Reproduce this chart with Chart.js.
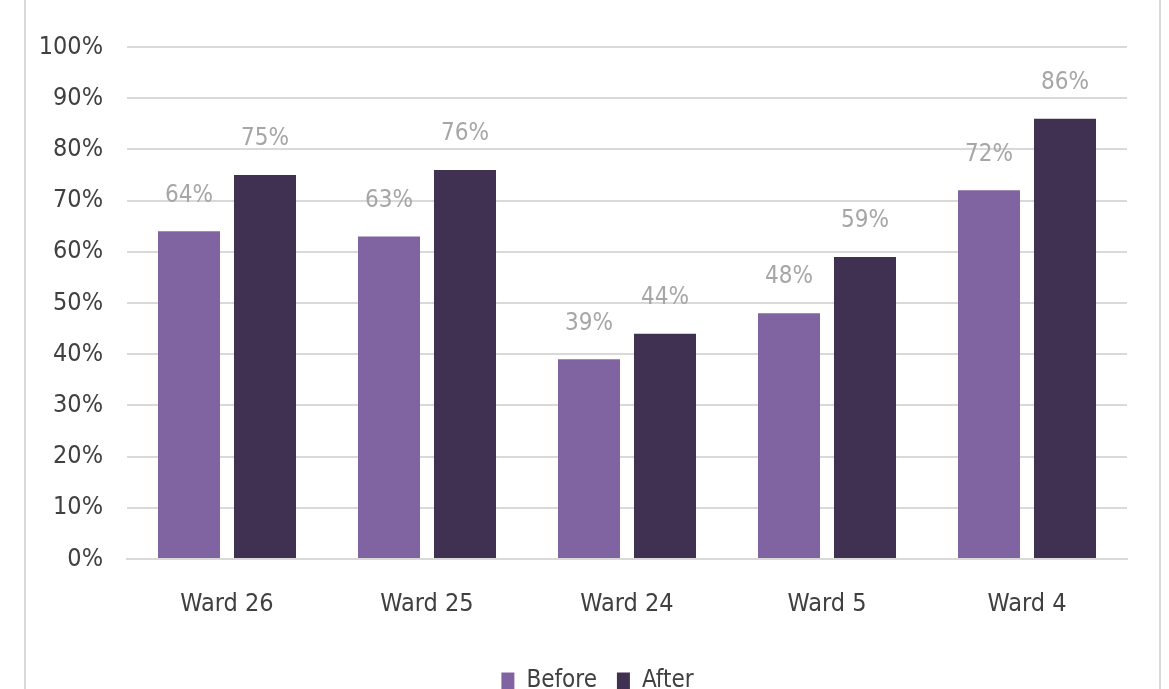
<!DOCTYPE html>
<html>
<head>
<meta charset="utf-8">
<script src="https://cdn.jsdelivr.net/npm/chart.js@4.4.1/dist/chart.umd.min.js"></script>
<style>
  html, body { margin: 0; padding: 0; background: #fff; overflow: hidden; }
  #wrap { position: relative; width: 1169px; height: 689px; overflow: hidden; }
  #frame { position: absolute; left: 24px; top: -5px; width: 1137px; height: 730px;
           border-left: 2px solid #D9D9D9; border-right: 2px solid #D9D9D9; box-sizing: border-box; }
  #cv { position: absolute; left: 0; top: 0; }
</style>
</head>
<body>
<div id="wrap">
  <div id="frame"></div>
  <canvas id="cv" width="1169" height="703" style="width:1169px;height:703px"></canvas>
</div>
<script>
const categories = ["Ward 26", "Ward 25", "Ward 24", "Ward 5", "Ward 4"];
const beforeValues = [64, 63, 39, 48, 72];
const afterValues = [75, 76, 44, 59, 86];
const seriesNames = ["Before", "After"];
const yTicks = [0, 10, 20, 30, 40, 50, 60, 70, 80, 90, 100];

const FONT = "'Liberation Sans Narrow', 'DejaVu Sans Condensed', 'Roboto Condensed', 'Liberation Sans', sans-serif";

const labelPlugin = {
  id: 'valueLabels',
  afterDatasetsDraw(chart) {
    const ctx = chart.ctx;
    ctx.save();
    ctx.font = "24px " + FONT;
    ctx.fillStyle = "#A6A6A6";
    ctx.textAlign = "center";
    ctx.textBaseline = "middle";
    chart.data.datasets.forEach((ds, i) => {
      const meta = chart.getDatasetMeta(i);
      meta.data.forEach((bar, j) => {
        ctx.fillText(ds.data[j] + "%", bar.x, bar.y - 36);
      });
    });
    ctx.restore();
  }
};

const legendShift = {
  id: 'legendShift',
  afterLayout(chart) {
    if (chart.legend) {
      chart.legend.left += 34;
      chart.legend.right += 34;
    }
  }
};

new Chart(document.getElementById('cv'), {
  type: 'bar',
  data: {
    labels: categories,
    datasets: [
      { label: seriesNames[0], data: beforeValues, backgroundColor: '#8064A2',
        categoryPercentage: 0.76, barPercentage: 0.816 },
      { label: seriesNames[1], data: afterValues, backgroundColor: '#403152',
        categoryPercentage: 0.76, barPercentage: 0.816 }
    ]
  },
  options: {
    responsive: false,
    animation: false,
    devicePixelRatio: 1,
    layout: { padding: { left: 0, right: 42, top: 47, bottom: 0 } },
    plugins: {
      legend: {
        position: 'bottom',
        labels: {
          font: { family: FONT, size: 24 },
          color: '#404040',
          boxWidth: 13,
          boxHeight: 17,
          padding: 20
        }
      },
      tooltip: { enabled: false },
      title: { display: false }
    },
    scales: {
      x: {
        grid: { display: false, drawTicks: false },
        border: { display: true, color: '#D9D9D9', width: 2 },
        ticks: { font: { family: FONT, size: 25 }, color: '#404040', padding: 30 },
        afterFit(scale) { scale.height = 90; }
      },
      y: {
        min: 0, max: 100,
        afterBuildTicks(scale) { scale.ticks = yTicks.map(v => ({ value: v })); },
        grid: { color: '#D9D9D9', lineWidth: 2, drawTicks: false },
        border: { display: false },
        ticks: { font: { family: FONT, size: 25 }, color: '#404040', padding: 24,
                 callback: v => v + '%' },
        afterFit(scale) { scale.width = 127; }
      }
    }
  },
  plugins: [labelPlugin, legendShift]
});
</script>
</body>
</html>
